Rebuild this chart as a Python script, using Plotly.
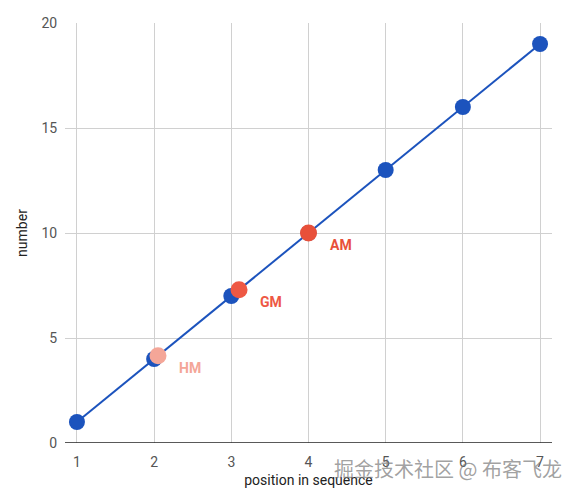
import plotly.graph_objects as go

# sequence values
positions = [1, 2, 3, 4, 5, 6, 7]
numbers = [1, 4, 7, 10, 13, 16, 19]

# means, placed on the line
mean_labels = ["HM", "GM", "AM"]
mean_x = [2.05, 3.1, 4.0]
mean_y = [4.16, 7.3, 10.0]
mean_colors = ["#f4a698", "#ee5844", "#e8503a"]

BLUE = "#1c53bd"
FONT = "Roboto, Arial, sans-serif"

fig = go.Figure()

fig.add_trace(go.Scatter(
    x=positions, y=numbers, mode="lines+markers",
    line=dict(color=BLUE, width=2),
    marker=dict(color=BLUE, size=16),
    showlegend=False, hoverinfo="x+y",
))

for lab, mx, my, col in zip(mean_labels, mean_x, mean_y, mean_colors):
    fig.add_trace(go.Scatter(
        x=[mx], y=[my], mode="markers",
        marker=dict(color=col, size=17),
        showlegend=False, name=lab,
    ))
    fig.add_annotation(
        x=mx, y=my, text=f"<b>{lab}</b>", showarrow=False,
        xshift=32, yshift=-12,
        font=dict(family=FONT, size=14, color=col),
    )

# watermark
fig.add_annotation(
    xref="paper", yref="paper", x=1.025, y=-0.06, xanchor="right", yanchor="middle",
    text="掘金技术社区 @ 布客飞龙", showarrow=False,
    font=dict(family="Noto Sans CJK SC", size=20, color="rgba(120,120,120,0.7)"),
)

# page body has an 8px margin, so the figure is 8px smaller
fig.update_layout(
    width=568, height=488,
    margin=dict(l=57, r=24, t=15, b=53),
    plot_bgcolor="white", paper_bgcolor="white",
    font=dict(family=FONT, size=14, color="#555555"),
    xaxis=dict(
        range=[0.845, 7.155], tickvals=positions, showgrid=True,
        gridcolor="#d0d0d0", gridwidth=1, zeroline=False, showline=False,
        ticks="outside", ticklen=6, tickcolor="rgba(0,0,0,0)",
        automargin=False,
        title=dict(text="position in sequence", standoff=6,
                   font=dict(size=14, color="#222222")),
    ),
    yaxis=dict(
        range=[0, 20], tickvals=[0, 5, 10, 15, 20], showgrid=True,
        gridcolor="#d0d0d0", gridwidth=1, zeroline=False,
        ticks="outside", ticklen=4, tickcolor="rgba(0,0,0,0)",
        showline=False, automargin=False,
        title=dict(text="number", standoff=10,
                   font=dict(size=14, color="#222222")),
    ),
    shapes=[dict(type="line", xref="paper", yref="y", x0=0, x1=1, y0=0, y1=0,
                 line=dict(color="#222222", width=1.5), layer="above")],
)

fig.write_html("out.html")
